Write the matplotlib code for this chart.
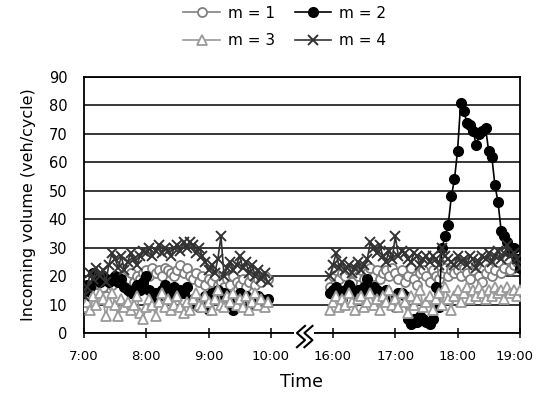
import numpy as np
import matplotlib
matplotlib.use("Agg")
import matplotlib.pyplot as plt
import matplotlib.transforms as mtransforms

plt.rcParams['font.family'] = ['DejaVu Sans']

# Cycle start times (hours); morning 7:00-9:57, afternoon 15:57-19:00, 3-min steps
AM_START, AM_STEP, AM_N = 7.0, 3, 60
PM_START, PM_STEP, PM_N = 15.95, 3, 62

TICK_HOURS = [7, 8, 9, 10, 16, 17, 18, 19]
TICK_LABELS = ["7:00", "8:00", "9:00", "10:00", "16:00", "17:00", "18:00", "19:00"]

# Incoming volume (veh/cycle), morning period
am_m1 = [12, 13, 11, 15, 14, 17, 16, 13, 18, 17,
         19, 18, 20, 17, 19, 21, 18, 20, 19, 21,
         22, 20, 23, 21, 22, 20, 23, 22, 21, 20,
         22, 24, 21, 23, 20, 19, 21, 18, 20, 17,
         19, 18, 20, 17, 18, 16, 19, 17, 20, 18,
         17, 19, 16, 18, 20, 17, 19, 18, 20, 19]
am_m2 = [14, 17, 16, 21, 19, 18, 20, 19, 18, 19,
         20, 18, 19, 16, 15, 14, 15, 17, 15, 18,
         20, 15, 12, 14, 13, 15, 17, 12, 14, 16,
         13, 15, 14, 16, 11, 12, 10, 9, 11, 13,
         8, 14, 13, 15, 12, 14, 10, 13, 8, 12,
         14, 11, 13, 10, 12, 11, 13, 12, 11, 12]
am_m3 = [9, 11, 8, 13, 10, 14, 12, 6, 11, 14,
         10, 6, 12, 9, 11, 8, 10, 13, 7, 5,
         9, 12, 10, 6, 11, 14, 9, 12, 8, 10,
         13, 9, 7, 11, 8, 12, 14, 10, 9, 13,
         11, 8, 12, 15, 10, 9, 13, 11, 14, 10,
         12, 9, 13, 8, 11, 14, 10, 12, 9, 11]
am_m4 = [13, 16, 21, 19, 23, 20, 22, 18, 24, 28,
         26, 23, 27, 22, 25, 28, 26, 24, 27, 29,
         28, 30, 27, 29, 31, 28, 30, 29, 27, 30,
         31, 29, 32, 30, 32, 31, 28, 30, 27, 25,
         22, 24, 21, 26, 34, 20, 23, 25, 22, 24,
         27, 23, 25, 21, 24, 20, 22, 19, 21, 18]

# Incoming volume (veh/cycle), afternoon period
pm_m1 = [16, 20, 22, 19, 21, 20, 22, 18, 21, 20,
         22, 19, 21, 23, 20, 22, 19, 21, 22, 20, 23,
         21, 19, 22, 18, 20, 23, 19, 17, 21, 22, 20,
         18, 22, 20, 19, 21, 23, 20, 22, 21,
         22, 20, 23, 21, 19, 22, 24, 20, 18, 21, 23,
         20, 22, 25, 21, 23, 26, 22, 24, 25, 24]
pm_m2 = [14, 15, 16, 13, 12, 15, 17, 14, 12, 15,
         13, 16, 19, 15, 16, 15, 13, 12, 15, 11, 12,
         9, 14, 14, 13, 5, 3, 5, 4, 6, 5, 4,
         3, 5, 16, 9, 30, 34, 38, 48, 54,
         64, 81, 78, 74, 73, 71, 66, 70, 71, 72, 64,
         62, 52, 46, 36, 34, 32, 29, 30, 26, 23]
pm_m3 = [8, 11, 13, 9, 12, 10, 14, 11, 8, 12,
         13, 9, 11, 14, 10, 12, 8, 13, 11, 15, 10,
         12, 9, 14, 11, 7, 13, 10, 12, 15, 9, 11,
         13, 8, 12, 14, 10, 16, 12, 8, 13,
         15, 11, 14, 16, 12, 15, 13, 16, 14, 12, 15,
         13, 16, 14, 15, 12, 16, 14, 15, 13, 15]
pm_m4 = [20, 24, 28, 23, 25, 22, 24, 21, 23, 25,
         22, 24, 26, 32, 30, 28, 31, 27, 25, 29, 26,
         34, 27, 29, 28, 26, 25, 28, 27, 24, 26, 27,
         25, 27, 26, 24, 30, 27, 26, 25, 24,
         27, 25, 26, 24, 27, 26, 23, 25, 27, 26, 28,
         25, 27, 29, 26, 28, 31, 27, 28, 26, 23]


def to_axis(hours):
    """Map clock hours to the broken axis (10:00-16:00 squeezed to one unit)."""
    hours = np.asarray(hours, dtype=float)
    return np.where(hours < 13, hours - 7, hours - 16 + 4)


am_t = AM_START + np.arange(AM_N) * AM_STEP / 60
pm_t = PM_START + np.arange(PM_N) * PM_STEP / 60

fig = plt.figure(figsize=(5.37, 3.99), dpi=100)
ax = fig.add_axes([0.1564, 0.1654, 0.8116, 0.6416])

styles = [
    ("m = 1", am_m1, pm_m1, dict(color="#808080", marker="o", mfc="white", mec="#808080", ms=6.5, mew=1.3)),
    ("m = 2", am_m2, pm_m2, dict(color="black", marker="o", mfc="black", mec="black", ms=7)),
    ("m = 3", am_m3, pm_m3, dict(color="#9a9a9a", marker="^", mfc="white", mec="#9a9a9a", ms=6.5, mew=1.3)),
    ("m = 4", am_m4, pm_m4, dict(color="#333333", marker="x", ms=7.5, mew=1.4)),
]

handles = {}
for label, am, pm, kw in styles:
    h, = ax.plot(to_axis(am_t), am, lw=1.2, label=label, zorder=3, **kw)
    ax.plot(to_axis(pm_t), pm, lw=1.2, zorder=3, **kw)
    handles[label] = h

ax.set_xlim(0, 7)
ax.set_ylim(0, 90)
ax.set_yticks(range(0, 91, 10))
ax.set_xticks(to_axis(TICK_HOURS))
ax.set_xticklabels(TICK_LABELS)
ax.yaxis.grid(True, color="black", lw=1.1)
ax.set_axisbelow(True)
for s in ax.spines.values():
    s.set_linewidth(1.3)
    s.set_color("black")
ax.tick_params(axis="x", direction="inout", length=7, width=1.1, labelsize=9.5, pad=9)
ax.tick_params(axis="y", length=0, labelsize=10.5, pad=12)
ax.set_xlabel("Time", fontsize=12.5, labelpad=7)
ax.set_ylabel("Incoming volume (veh/cycle)", fontsize=11.5, labelpad=9)

# nudge the last tick label so it stays inside the figure
last = ax.get_xticklabels()[-1]
last.set_transform(last.get_transform() + mtransforms.ScaledTranslation(-4 / 72, 0, fig.dpi_scale_trans))

# axis break symbol between 10:00 and 16:00
bx = 3.5
ax.add_patch(plt.Rectangle((bx - 0.12, -4), 0.32, 8, transform=ax.transData,
                           facecolor="white", edgecolor="none", clip_on=False, zorder=5))
for dx in (0.0, 0.12):
    zx = np.array([0.05, -0.08, 0.05, -0.08]) + bx + dx
    zy = np.array([2.5, 0.0, -2.5, -5.0])
    ax.plot(zx, zy, color="black", lw=1.5, clip_on=False, zorder=6)

order = ["m = 1", "m = 3", "m = 2", "m = 4"]
fig.legend([handles[k] for k in order], order, loc="upper center", ncol=2,
           bbox_to_anchor=(0.53, 1.02), frameon=False, fontsize=11,
           handlelength=2.4, columnspacing=1.3, labelspacing=0.8, handletextpad=0.5)

fig.savefig("out.png", dpi=100)
